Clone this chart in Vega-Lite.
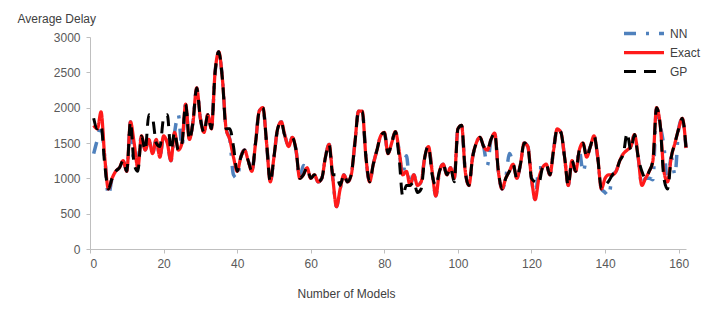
{
  "$schema": "https://vega.github.io/schema/vega-lite/v6.json",
  "width": 596,
  "height": 212,
  "autosize": {"type": "none"},
  "padding": {"left": 90, "top": 37, "right": 19, "bottom": 72},
  "background": "#ffffff",
  "config": {
    "view": {"stroke": null},
    "font": "Liberation Sans",
    "axis": {
      "grid": false,
      "domainColor": "#bfbfbf",
      "tickColor": "#bfbfbf",
      "tickSize": 4,
      "labelColor": "#595959",
      "labelFontSize": 12,
      "titleColor": "#404040",
      "titleFontSize": 12,
      "titleFontWeight": "normal"
    }
  },
  "data": {
    "values": [
      {"models":1,"series":"NN","delay":1350},{"models":2,"series":"NN","delay":1550},{"models":3,"series":"NN","delay":1750},{"models":4,"series":"NN","delay":1300},{"models":5,"series":"NN","delay":760},{"models":6,"series":"NN","delay":1000},{"models":7,"series":"NN","delay":1100},{"models":8,"series":"NN","delay":1150},{"models":9,"series":"NN","delay":1250},{"models":10,"series":"NN","delay":1100},
      {"models":11,"series":"NN","delay":1800},{"models":12,"series":"NN","delay":1200},{"models":13,"series":"NN","delay":1250},{"models":14,"series":"NN","delay":1600},{"models":15,"series":"NN","delay":1400},{"models":16,"series":"NN","delay":1550},{"models":17,"series":"NN","delay":1350},{"models":18,"series":"NN","delay":1550},{"models":19,"series":"NN","delay":1300},{"models":20,"series":"NN","delay":1600},
      {"models":21,"series":"NN","delay":1500},{"models":22,"series":"NN","delay":1250},{"models":23,"series":"NN","delay":1650},{"models":24,"series":"NN","delay":1900},{"models":25,"series":"NN","delay":1450},{"models":26,"series":"NN","delay":2050},{"models":27,"series":"NN","delay":1550},{"models":28,"series":"NN","delay":1800},{"models":29,"series":"NN","delay":2280},{"models":30,"series":"NN","delay":1850},
      {"models":31,"series":"NN","delay":1650},{"models":32,"series":"NN","delay":1900},{"models":33,"series":"NN","delay":1700},{"models":34,"series":"NN","delay":2500},{"models":35,"series":"NN","delay":2790},{"models":36,"series":"NN","delay":2400},{"models":37,"series":"NN","delay":1700},{"models":38,"series":"NN","delay":1550},{"models":39,"series":"NN","delay":1050},{"models":40,"series":"NN","delay":1000},
      {"models":41,"series":"NN","delay":1300},{"models":42,"series":"NN","delay":1400},{"models":43,"series":"NN","delay":1250},{"models":44,"series":"NN","delay":1100},{"models":45,"series":"NN","delay":1500},{"models":46,"series":"NN","delay":1950},{"models":47,"series":"NN","delay":2000},{"models":48,"series":"NN","delay":1500},{"models":49,"series":"NN","delay":950},{"models":50,"series":"NN","delay":1300},
      {"models":51,"series":"NN","delay":1700},{"models":52,"series":"NN","delay":1800},{"models":53,"series":"NN","delay":1600},{"models":54,"series":"NN","delay":1450},{"models":55,"series":"NN","delay":1580},{"models":56,"series":"NN","delay":1400},{"models":57,"series":"NN","delay":1000},{"models":58,"series":"NN","delay":1180},{"models":59,"series":"NN","delay":1150},{"models":60,"series":"NN","delay":1000},
      {"models":61,"series":"NN","delay":1050},{"models":62,"series":"NN","delay":950},{"models":63,"series":"NN","delay":1000},{"models":64,"series":"NN","delay":1300},{"models":65,"series":"NN","delay":1480},{"models":66,"series":"NN","delay":1000},{"models":67,"series":"NN","delay":600},{"models":68,"series":"NN","delay":850},{"models":69,"series":"NN","delay":1050},{"models":70,"series":"NN","delay":950},
      {"models":71,"series":"NN","delay":1050},{"models":72,"series":"NN","delay":1500},{"models":73,"series":"NN","delay":1950},{"models":74,"series":"NN","delay":1950},{"models":75,"series":"NN","delay":1300},{"models":76,"series":"NN","delay":950},{"models":77,"series":"NN","delay":1200},{"models":78,"series":"NN","delay":1400},{"models":79,"series":"NN","delay":1600},{"models":80,"series":"NN","delay":1650},
      {"models":81,"series":"NN","delay":1350},{"models":82,"series":"NN","delay":1500},{"models":83,"series":"NN","delay":1660},{"models":84,"series":"NN","delay":1400},{"models":85,"series":"NN","delay":1050},{"models":86,"series":"NN","delay":1320},{"models":87,"series":"NN","delay":900},{"models":88,"series":"NN","delay":1050},{"models":89,"series":"NN","delay":900},{"models":90,"series":"NN","delay":950},
      {"models":91,"series":"NN","delay":1300},{"models":92,"series":"NN","delay":1450},{"models":93,"series":"NN","delay":1100},{"models":94,"series":"NN","delay":750},{"models":95,"series":"NN","delay":1100},{"models":96,"series":"NN","delay":1200},{"models":97,"series":"NN","delay":1050},{"models":98,"series":"NN","delay":1150},{"models":99,"series":"NN","delay":1000},{"models":100,"series":"NN","delay":1700},
      {"models":101,"series":"NN","delay":1750},{"models":102,"series":"NN","delay":1100},{"models":103,"series":"NN","delay":900},{"models":104,"series":"NN","delay":1300},{"models":105,"series":"NN","delay":1500},{"models":106,"series":"NN","delay":1580},{"models":107,"series":"NN","delay":1450},{"models":108,"series":"NN","delay":1180},{"models":109,"series":"NN","delay":1550},{"models":110,"series":"NN","delay":1640},
      {"models":111,"series":"NN","delay":1100},{"models":112,"series":"NN","delay":850},{"models":113,"series":"NN","delay":1000},{"models":114,"series":"NN","delay":1350},{"models":115,"series":"NN","delay":1200},{"models":116,"series":"NN","delay":1000},{"models":117,"series":"NN","delay":1200},{"models":118,"series":"NN","delay":1500},{"models":119,"series":"NN","delay":1450},{"models":120,"series":"NN","delay":1000},
      {"models":121,"series":"NN","delay":700},{"models":122,"series":"NN","delay":1150},{"models":123,"series":"NN","delay":1150},{"models":124,"series":"NN","delay":1200},{"models":125,"series":"NN","delay":1050},{"models":126,"series":"NN","delay":1400},{"models":127,"series":"NN","delay":1700},{"models":128,"series":"NN","delay":1650},{"models":129,"series":"NN","delay":1300},{"models":130,"series":"NN","delay":900},
      {"models":131,"series":"NN","delay":1250},{"models":132,"series":"NN","delay":1100},{"models":133,"series":"NN","delay":1400},{"models":134,"series":"NN","delay":1090},{"models":135,"series":"NN","delay":1300},{"models":136,"series":"NN","delay":1450},{"models":137,"series":"NN","delay":1600},{"models":138,"series":"NN","delay":1300},{"models":139,"series":"NN","delay":850},{"models":140,"series":"NN","delay":800},
      {"models":141,"series":"NN","delay":750},{"models":142,"series":"NN","delay":1050},{"models":143,"series":"NN","delay":1100},{"models":144,"series":"NN","delay":1250},{"models":145,"series":"NN","delay":1350},{"models":146,"series":"NN","delay":1400},{"models":147,"series":"NN","delay":1450},{"models":148,"series":"NN","delay":1620},{"models":149,"series":"NN","delay":1300},{"models":150,"series":"NN","delay":900},
      {"models":151,"series":"NN","delay":1000},{"models":152,"series":"NN","delay":1000},{"models":153,"series":"NN","delay":980},{"models":154,"series":"NN","delay":2000},{"models":155,"series":"NN","delay":1750},{"models":156,"series":"NN","delay":1450},{"models":157,"series":"NN","delay":950},{"models":158,"series":"NN","delay":1300},{"models":159,"series":"NN","delay":1050},{"models":160,"series":"NN","delay":1700},
      {"models":161,"series":"NN","delay":1850},{"models":162,"series":"NN","delay":1430},

      {"models":1,"series":"Exact","delay":1750},{"models":2,"series":"Exact","delay":1700},{"models":3,"series":"Exact","delay":1940},{"models":4,"series":"Exact","delay":1300},{"models":5,"series":"Exact","delay":850},{"models":6,"series":"Exact","delay":1000},{"models":7,"series":"Exact","delay":1100},{"models":8,"series":"Exact","delay":1150},{"models":9,"series":"Exact","delay":1250},{"models":10,"series":"Exact","delay":1100},
      {"models":11,"series":"Exact","delay":1800},{"models":12,"series":"Exact","delay":1500},{"models":13,"series":"Exact","delay":1150},{"models":14,"series":"Exact","delay":1600},{"models":15,"series":"Exact","delay":1400},{"models":16,"series":"Exact","delay":1550},{"models":17,"series":"Exact","delay":1350},{"models":18,"series":"Exact","delay":1550},{"models":19,"series":"Exact","delay":1300},{"models":20,"series":"Exact","delay":1600},
      {"models":21,"series":"Exact","delay":1500},{"models":22,"series":"Exact","delay":1250},{"models":23,"series":"Exact","delay":1650},{"models":24,"series":"Exact","delay":1400},{"models":25,"series":"Exact","delay":1500},{"models":26,"series":"Exact","delay":2050},{"models":27,"series":"Exact","delay":1550},{"models":28,"series":"Exact","delay":1800},{"models":29,"series":"Exact","delay":2280},{"models":30,"series":"Exact","delay":1850},
      {"models":31,"series":"Exact","delay":1650},{"models":32,"series":"Exact","delay":1900},{"models":33,"series":"Exact","delay":1700},{"models":34,"series":"Exact","delay":2500},{"models":35,"series":"Exact","delay":2790},{"models":36,"series":"Exact","delay":2400},{"models":37,"series":"Exact","delay":1700},{"models":38,"series":"Exact","delay":1550},{"models":39,"series":"Exact","delay":1300},{"models":40,"series":"Exact","delay":1100},
      {"models":41,"series":"Exact","delay":1300},{"models":42,"series":"Exact","delay":1400},{"models":43,"series":"Exact","delay":1250},{"models":44,"series":"Exact","delay":1100},{"models":45,"series":"Exact","delay":1500},{"models":46,"series":"Exact","delay":1950},{"models":47,"series":"Exact","delay":2000},{"models":48,"series":"Exact","delay":1500},{"models":49,"series":"Exact","delay":950},{"models":50,"series":"Exact","delay":1300},
      {"models":51,"series":"Exact","delay":1700},{"models":52,"series":"Exact","delay":1800},{"models":53,"series":"Exact","delay":1600},{"models":54,"series":"Exact","delay":1450},{"models":55,"series":"Exact","delay":1580},{"models":56,"series":"Exact","delay":1400},{"models":57,"series":"Exact","delay":1000},{"models":58,"series":"Exact","delay":1050},{"models":59,"series":"Exact","delay":1150},{"models":60,"series":"Exact","delay":1000},
      {"models":61,"series":"Exact","delay":1050},{"models":62,"series":"Exact","delay":950},{"models":63,"series":"Exact","delay":1000},{"models":64,"series":"Exact","delay":1300},{"models":65,"series":"Exact","delay":1480},{"models":66,"series":"Exact","delay":1000},{"models":67,"series":"Exact","delay":600},{"models":68,"series":"Exact","delay":850},{"models":69,"series":"Exact","delay":1050},{"models":70,"series":"Exact","delay":950},
      {"models":71,"series":"Exact","delay":1050},{"models":72,"series":"Exact","delay":1500},{"models":73,"series":"Exact","delay":1950},{"models":74,"series":"Exact","delay":1950},{"models":75,"series":"Exact","delay":1300},{"models":76,"series":"Exact","delay":950},{"models":77,"series":"Exact","delay":1200},{"models":78,"series":"Exact","delay":1400},{"models":79,"series":"Exact","delay":1600},{"models":80,"series":"Exact","delay":1650},
      {"models":81,"series":"Exact","delay":1350},{"models":82,"series":"Exact","delay":1500},{"models":83,"series":"Exact","delay":1660},{"models":84,"series":"Exact","delay":1400},{"models":85,"series":"Exact","delay":1050},{"models":86,"series":"Exact","delay":1100},{"models":87,"series":"Exact","delay":900},{"models":88,"series":"Exact","delay":1050},{"models":89,"series":"Exact","delay":900},{"models":90,"series":"Exact","delay":950},
      {"models":91,"series":"Exact","delay":1300},{"models":92,"series":"Exact","delay":1450},{"models":93,"series":"Exact","delay":1100},{"models":94,"series":"Exact","delay":750},{"models":95,"series":"Exact","delay":1100},{"models":96,"series":"Exact","delay":1200},{"models":97,"series":"Exact","delay":1050},{"models":98,"series":"Exact","delay":1150},{"models":99,"series":"Exact","delay":1000},{"models":100,"series":"Exact","delay":1700},
      {"models":101,"series":"Exact","delay":1750},{"models":102,"series":"Exact","delay":1100},{"models":103,"series":"Exact","delay":900},{"models":104,"series":"Exact","delay":1300},{"models":105,"series":"Exact","delay":1500},{"models":106,"series":"Exact","delay":1580},{"models":107,"series":"Exact","delay":1450},{"models":108,"series":"Exact","delay":1400},{"models":109,"series":"Exact","delay":1550},{"models":110,"series":"Exact","delay":1640},
      {"models":111,"series":"Exact","delay":1100},{"models":112,"series":"Exact","delay":850},{"models":113,"series":"Exact","delay":1000},{"models":114,"series":"Exact","delay":1100},{"models":115,"series":"Exact","delay":1200},{"models":116,"series":"Exact","delay":1000},{"models":117,"series":"Exact","delay":1200},{"models":118,"series":"Exact","delay":1500},{"models":119,"series":"Exact","delay":1450},{"models":120,"series":"Exact","delay":1000},
      {"models":121,"series":"Exact","delay":700},{"models":122,"series":"Exact","delay":1000},{"models":123,"series":"Exact","delay":1150},{"models":124,"series":"Exact","delay":1200},{"models":125,"series":"Exact","delay":1050},{"models":126,"series":"Exact","delay":1400},{"models":127,"series":"Exact","delay":1700},{"models":128,"series":"Exact","delay":1650},{"models":129,"series":"Exact","delay":1300},{"models":130,"series":"Exact","delay":900},
      {"models":131,"series":"Exact","delay":1250},{"models":132,"series":"Exact","delay":1100},{"models":133,"series":"Exact","delay":1400},{"models":134,"series":"Exact","delay":1500},{"models":135,"series":"Exact","delay":1300},{"models":136,"series":"Exact","delay":1450},{"models":137,"series":"Exact","delay":1600},{"models":138,"series":"Exact","delay":1300},{"models":139,"series":"Exact","delay":850},{"models":140,"series":"Exact","delay":1000},
      {"models":141,"series":"Exact","delay":1050},{"models":142,"series":"Exact","delay":1050},{"models":143,"series":"Exact","delay":1100},{"models":144,"series":"Exact","delay":1250},{"models":145,"series":"Exact","delay":1350},{"models":146,"series":"Exact","delay":1400},{"models":147,"series":"Exact","delay":1450},{"models":148,"series":"Exact","delay":1620},{"models":149,"series":"Exact","delay":1300},{"models":150,"series":"Exact","delay":900},
      {"models":151,"series":"Exact","delay":1000},{"models":152,"series":"Exact","delay":1100},{"models":153,"series":"Exact","delay":1250},{"models":154,"series":"Exact","delay":2000},{"models":155,"series":"Exact","delay":1750},{"models":156,"series":"Exact","delay":1100},{"models":157,"series":"Exact","delay":950},{"models":158,"series":"Exact","delay":1300},{"models":159,"series":"Exact","delay":1500},{"models":160,"series":"Exact","delay":1700},
      {"models":161,"series":"Exact","delay":1850},{"models":162,"series":"Exact","delay":1430},

      {"models":1,"series":"GP","delay":1850},{"models":2,"series":"GP","delay":1700},{"models":3,"series":"GP","delay":1750},{"models":4,"series":"GP","delay":1200},{"models":5,"series":"GP","delay":850},{"models":6,"series":"GP","delay":1000},{"models":7,"series":"GP","delay":1100},{"models":8,"series":"GP","delay":1150},{"models":9,"series":"GP","delay":1250},{"models":10,"series":"GP","delay":1100},
      {"models":11,"series":"GP","delay":1800},{"models":12,"series":"GP","delay":1200},{"models":13,"series":"GP","delay":1100},{"models":14,"series":"GP","delay":1600},{"models":15,"series":"GP","delay":1400},{"models":16,"series":"GP","delay":1900},{"models":17,"series":"GP","delay":1850},{"models":18,"series":"GP","delay":1500},{"models":19,"series":"GP","delay":1450},{"models":20,"series":"GP","delay":1850},
      {"models":21,"series":"GP","delay":1900},{"models":22,"series":"GP","delay":1400},{"models":23,"series":"GP","delay":1650},{"models":24,"series":"GP","delay":1400},{"models":25,"series":"GP","delay":1500},{"models":26,"series":"GP","delay":2050},{"models":27,"series":"GP","delay":1550},{"models":28,"series":"GP","delay":1800},{"models":29,"series":"GP","delay":2280},{"models":30,"series":"GP","delay":1850},
      {"models":31,"series":"GP","delay":1650},{"models":32,"series":"GP","delay":1900},{"models":33,"series":"GP","delay":1700},{"models":34,"series":"GP","delay":2500},{"models":35,"series":"GP","delay":2790},{"models":36,"series":"GP","delay":2400},{"models":37,"series":"GP","delay":1700},{"models":38,"series":"GP","delay":1700},{"models":39,"series":"GP","delay":1450},{"models":40,"series":"GP","delay":1100},
      {"models":41,"series":"GP","delay":1300},{"models":42,"series":"GP","delay":1400},{"models":43,"series":"GP","delay":1250},{"models":44,"series":"GP","delay":1100},{"models":45,"series":"GP","delay":1500},{"models":46,"series":"GP","delay":1950},{"models":47,"series":"GP","delay":2000},{"models":48,"series":"GP","delay":1500},{"models":49,"series":"GP","delay":950},{"models":50,"series":"GP","delay":1300},
      {"models":51,"series":"GP","delay":1700},{"models":52,"series":"GP","delay":1800},{"models":53,"series":"GP","delay":1600},{"models":54,"series":"GP","delay":1600},{"models":55,"series":"GP","delay":1580},{"models":56,"series":"GP","delay":1400},{"models":57,"series":"GP","delay":1000},{"models":58,"series":"GP","delay":1050},{"models":59,"series":"GP","delay":1150},{"models":60,"series":"GP","delay":1000},
      {"models":61,"series":"GP","delay":1050},{"models":62,"series":"GP","delay":950},{"models":63,"series":"GP","delay":1000},{"models":64,"series":"GP","delay":1300},{"models":65,"series":"GP","delay":1480},{"models":66,"series":"GP","delay":1050},{"models":67,"series":"GP","delay":1050},{"models":68,"series":"GP","delay":900},{"models":69,"series":"GP","delay":1050},{"models":70,"series":"GP","delay":950},
      {"models":71,"series":"GP","delay":1050},{"models":72,"series":"GP","delay":1500},{"models":73,"series":"GP","delay":1950},{"models":74,"series":"GP","delay":1950},{"models":75,"series":"GP","delay":1300},{"models":76,"series":"GP","delay":950},{"models":77,"series":"GP","delay":1200},{"models":78,"series":"GP","delay":1400},{"models":79,"series":"GP","delay":1600},{"models":80,"series":"GP","delay":1650},
      {"models":81,"series":"GP","delay":1350},{"models":82,"series":"GP","delay":1500},{"models":83,"series":"GP","delay":1660},{"models":84,"series":"GP","delay":1300},{"models":85,"series":"GP","delay":750},{"models":86,"series":"GP","delay":900},{"models":87,"series":"GP","delay":900},{"models":88,"series":"GP","delay":950},{"models":89,"series":"GP","delay":800},{"models":90,"series":"GP","delay":850},
      {"models":91,"series":"GP","delay":1300},{"models":92,"series":"GP","delay":1450},{"models":93,"series":"GP","delay":1050},{"models":94,"series":"GP","delay":900},{"models":95,"series":"GP","delay":1100},{"models":96,"series":"GP","delay":1200},{"models":97,"series":"GP","delay":1050},{"models":98,"series":"GP","delay":1150},{"models":99,"series":"GP","delay":950},{"models":100,"series":"GP","delay":1700},
      {"models":101,"series":"GP","delay":1750},{"models":102,"series":"GP","delay":1100},{"models":103,"series":"GP","delay":900},{"models":104,"series":"GP","delay":1300},{"models":105,"series":"GP","delay":1500},{"models":106,"series":"GP","delay":1580},{"models":107,"series":"GP","delay":1450},{"models":108,"series":"GP","delay":1400},{"models":109,"series":"GP","delay":1550},{"models":110,"series":"GP","delay":1640},
      {"models":111,"series":"GP","delay":1100},{"models":112,"series":"GP","delay":850},{"models":113,"series":"GP","delay":1000},{"models":114,"series":"GP","delay":1100},{"models":115,"series":"GP","delay":1200},{"models":116,"series":"GP","delay":1000},{"models":117,"series":"GP","delay":1200},{"models":118,"series":"GP","delay":1500},{"models":119,"series":"GP","delay":1450},{"models":120,"series":"GP","delay":1000},
      {"models":121,"series":"GP","delay":950},{"models":122,"series":"GP","delay":930},{"models":123,"series":"GP","delay":1150},{"models":124,"series":"GP","delay":1200},{"models":125,"series":"GP","delay":1050},{"models":126,"series":"GP","delay":1400},{"models":127,"series":"GP","delay":1700},{"models":128,"series":"GP","delay":1650},{"models":129,"series":"GP","delay":1300},{"models":130,"series":"GP","delay":900},
      {"models":131,"series":"GP","delay":1250},{"models":132,"series":"GP","delay":1100},{"models":133,"series":"GP","delay":1400},{"models":134,"series":"GP","delay":1500},{"models":135,"series":"GP","delay":1300},{"models":136,"series":"GP","delay":1450},{"models":137,"series":"GP","delay":1600},{"models":138,"series":"GP","delay":1300},{"models":139,"series":"GP","delay":850},{"models":140,"series":"GP","delay":900},
      {"models":141,"series":"GP","delay":960},{"models":142,"series":"GP","delay":1050},{"models":143,"series":"GP","delay":1100},{"models":144,"series":"GP","delay":1250},{"models":145,"series":"GP","delay":1350},{"models":146,"series":"GP","delay":1640},{"models":147,"series":"GP","delay":1400},{"models":148,"series":"GP","delay":1620},{"models":149,"series":"GP","delay":1300},{"models":150,"series":"GP","delay":1100},
      {"models":151,"series":"GP","delay":1000},{"models":152,"series":"GP","delay":1100},{"models":153,"series":"GP","delay":1250},{"models":154,"series":"GP","delay":2000},{"models":155,"series":"GP","delay":1750},{"models":156,"series":"GP","delay":1000},{"models":157,"series":"GP","delay":850},{"models":158,"series":"GP","delay":1300},{"models":159,"series":"GP","delay":1500},{"models":160,"series":"GP","delay":1700},
      {"models":161,"series":"GP","delay":1850},{"models":162,"series":"GP","delay":1430}
    ]
  },
  "mark": {"type": "line", "interpolate": "monotone"},
  "encoding": {
    "x": {
      "field": "models",
      "type": "quantitative",
      "scale": {"domain": [0, 162], "nice": false},
      "axis": {
        "values": [0, 20, 40, 60, 80, 100, 120, 140, 160],
        "format": "d",
        "title": "Number of Models",
        "labelPadding": 5,
        "titleX": 256,
        "titleY": 48,
        "titleBaseline": "alphabetic"
      }
    },
    "y": {
      "field": "delay",
      "type": "quantitative",
      "scale": {"domain": [0, 3000], "nice": false},
      "axis": {
        "values": [0, 500, 1000, 1500, 2000, 2500, 3000],
        "format": "d",
        "title": "Average Delay",
        "titleAngle": 0,
        "titleAlign": "left",
        "titleBaseline": "alphabetic",
        "titleX": -73,
        "titleY": -15,
        "labelPadding": 6
      }
    },
    "color": {
      "field": "series",
      "type": "nominal",
      "scale": {"domain": ["NN", "Exact", "GP"], "range": ["#4f81bd", "#ff1a1a", "#000000"]},
      "legend": {
        "title": null,
        "orient": "none",
        "legendX": 532,
        "legendY": -13,
        "symbolType": "stroke",
        "symbolSize": 1600,
        "symbolStrokeWidth": 3,
        "clipHeight": 19,
        "rowPadding": 0,
        "padding": 0,
        "labelOffset": 4,
        "labelFontSize": 12,
        "labelColor": "#404040"
      }
    },
    "strokeDash": {
      "field": "series",
      "type": "nominal",
      "scale": {"domain": ["NN", "Exact", "GP"], "range": [[12, 10, 3, 10], [1, 0], [12, 8]]}
    },
    "strokeWidth": {
      "field": "series",
      "type": "ordinal",
      "scale": {"domain": ["NN", "Exact", "GP"], "range": [3.5, 3, 4]},
      "legend": null
    }
  }
}
